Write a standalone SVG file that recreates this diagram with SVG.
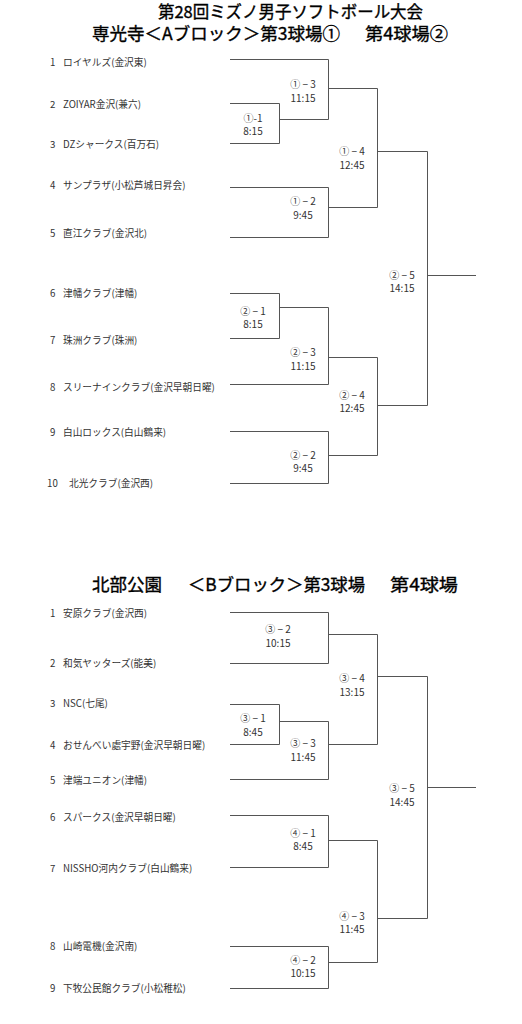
<svg xmlns="http://www.w3.org/2000/svg" width="522" height="1024" viewBox="0 0 522 1024">
<style>
.t{font-family:"Noto Sans CJK JP","Liberation Sans",sans-serif;fill:#000;font-size:17px;font-weight:normal;stroke:#000;stroke-width:0.35}
.n{font-family:"Noto Sans CJK JP","Liberation Sans",sans-serif;fill:#333;font-size:9.7px}
.m{font-family:"Noto Sans CJK JP","Liberation Sans",sans-serif;fill:#333;font-size:10px;text-anchor:middle}
.c{fill:none;stroke:#555;stroke-width:1}
</style>
<rect width="522" height="1024" fill="#fff"/>
<g id="titles">
<text class="t" x="158" y="18" textLength="265" lengthAdjust="spacingAndGlyphs" style="font-size:16.5px">第28回ミズノ男子ソフトボール大会</text>
<text class="t" x="92" y="40" textLength="248" lengthAdjust="spacingAndGlyphs">専光寺＜Aブロック＞第3球場①</text>
<text class="t" x="365" y="40" textLength="83" lengthAdjust="spacingAndGlyphs">第4球場②</text>
<text class="t" x="92" y="591" textLength="70" lengthAdjust="spacingAndGlyphs">北部公園</text>
<text class="t" x="188" y="591" textLength="177" lengthAdjust="spacingAndGlyphs">＜Bブロック＞第3球場</text>
<text class="t" x="390" y="591" textLength="68" lengthAdjust="spacingAndGlyphs">第4球場</text>
</g>
<g id="connectors" class="c">
<path d="M230,59.5 H328.5 V119.5 H279.5"/>
<path d="M230,103.5 H279.5 V143.5 H230"/>
<path d="M328.5,88.5 H377.5 V207.5 H328.5"/>
<path d="M230,187.5 H328.5 V237.5 H230"/>
<path d="M377.5,151.5 H427.5 V405.5 H377.5"/>
<path d="M427.5,275.5 H476"/>
<path d="M230,293.5 H279.5 V338.5 H230"/>
<path d="M279.5,307.5 H328.5 V384.5 H230"/>
<path d="M328.5,357.5 H377.5 V455.5 H328.5"/>
<path d="M230,431.5 H328.5 V483.5 H230"/>
<path d="M230,612.5 H328.5 V663.5 H230"/>
<path d="M328.5,634.5 H377.5 V744.5 H328.5"/>
<path d="M230,704.5 H279.5 V744.5 H230"/>
<path d="M279.5,721.5 H328.5 V779.5 H230"/>
<path d="M377.5,676.5 H427.5 V918.5 H377.5"/>
<path d="M427.5,787.5 H476"/>
<path d="M230,815.5 H328.5 V867.5 H230"/>
<path d="M328.5,840.5 H377.5 V962.5 H328.5"/>
<path d="M230,946.5 H328.5 V988.5 H230"/>
</g>
<g id="teamA1"><text class="n" x="50" y="66">1<tspan x="63">ロイヤルズ(金沢東)</tspan></text></g>
<g id="teamA2"><text class="n" x="50" y="108">2<tspan x="63">ZOIYAR金沢(兼六)</tspan></text></g>
<g id="teamA3"><text class="n" x="50" y="148">3<tspan x="63">DZシャークス(百万石)</tspan></text></g>
<g id="teamA4"><text class="n" x="50" y="189">4<tspan x="63">サンプラザ(小松芦城日昇会)</tspan></text></g>
<g id="teamA5"><text class="n" x="50" y="237">5<tspan x="63">直江クラブ(金沢北)</tspan></text></g>
<g id="teamA6"><text class="n" x="50" y="297">6<tspan x="63">津幡クラブ(津幡)</tspan></text></g>
<g id="teamA7"><text class="n" x="50" y="344">7<tspan x="63">珠洲クラブ(珠洲)</tspan></text></g>
<g id="teamA8"><text class="n" x="50" y="391">8<tspan x="63">スリーナインクラブ(金沢早朝日曜)</tspan></text></g>
<g id="teamA9"><text class="n" x="50" y="436">9<tspan x="63">白山ロックス(白山鶴来)</tspan></text></g>
<g id="teamA10"><text class="n" x="47" y="487">10<tspan x="69">北光クラブ(金沢西)</tspan></text></g>
<g id="teamB1"><text class="n" x="50" y="617">1<tspan x="63">安原クラブ(金沢西)</tspan></text></g>
<g id="teamB2"><text class="n" x="50" y="667">2<tspan x="63">和気ヤッターズ(能美)</tspan></text></g>
<g id="teamB3"><text class="n" x="50" y="707">3<tspan x="63">NSC(七尾)</tspan></text></g>
<g id="teamB4"><text class="n" x="50" y="749">4<tspan x="63">おせんべい處宇野(金沢早朝日曜)</tspan></text></g>
<g id="teamB5"><text class="n" x="50" y="784">5<tspan x="63">津端ユニオン(津幡)</tspan></text></g>
<g id="teamB6"><text class="n" x="50" y="821">6<tspan x="63">スパークス(金沢早朝日曜)</tspan></text></g>
<g id="teamB7"><text class="n" x="50" y="872">7<tspan x="63">NISSHO河内クラブ(白山鶴来)</tspan></text></g>
<g id="teamB8"><text class="n" x="50" y="950">8<tspan x="63">山崎電機(金沢南)</tspan></text></g>
<g id="teamB9"><text class="n" x="50" y="992">9<tspan x="63">下牧公民館クラブ(小松稚松)</tspan></text></g>
<g id="mA3"><text class="m" x="303" y="88">① − 3</text><text class="m" x="303" y="102">11:15</text></g>
<g id="mA1"><text class="m" x="253" y="122">①-1</text><text class="m" x="253" y="135">8:15</text></g>
<g id="mA4"><text class="m" x="352" y="155">① − 4</text><text class="m" x="352" y="169">12:45</text></g>
<g id="mA2"><text class="m" x="303" y="205">① − 2</text><text class="m" x="303" y="219">9:45</text></g>
<g id="mA5"><text class="m" x="402" y="279">② − 5</text><text class="m" x="402" y="292">14:15</text></g>
<g id="mA21"><text class="m" x="253" y="315">② − 1</text><text class="m" x="253" y="328">8:15</text></g>
<g id="mA23"><text class="m" x="303" y="356">② − 3</text><text class="m" x="303" y="370">11:15</text></g>
<g id="mA24"><text class="m" x="352" y="399">② − 4</text><text class="m" x="352" y="412">12:45</text></g>
<g id="mA22"><text class="m" x="303" y="459">② − 2</text><text class="m" x="303" y="472">9:45</text></g>
<g id="mB32"><text class="m" x="278" y="633">③ − 2</text><text class="m" x="278" y="647">10:15</text></g>
<g id="mB34"><text class="m" x="352" y="682">③ − 4</text><text class="m" x="352" y="696">13:15</text></g>
<g id="mB31"><text class="m" x="253" y="722">③ − 1</text><text class="m" x="253" y="736">8:45</text></g>
<g id="mB33"><text class="m" x="303" y="747">③ − 3</text><text class="m" x="303" y="761">11:45</text></g>
<g id="mB35"><text class="m" x="402" y="792">③ − 5</text><text class="m" x="402" y="806">14:45</text></g>
<g id="mB41"><text class="m" x="303" y="837">④ − 1</text><text class="m" x="303" y="850">8:45</text></g>
<g id="mB43"><text class="m" x="352" y="920">④ − 3</text><text class="m" x="352" y="933">11:45</text></g>
<g id="mB42"><text class="m" x="303" y="964">④ − 2</text><text class="m" x="303" y="977">10:15</text></g>
</svg>
